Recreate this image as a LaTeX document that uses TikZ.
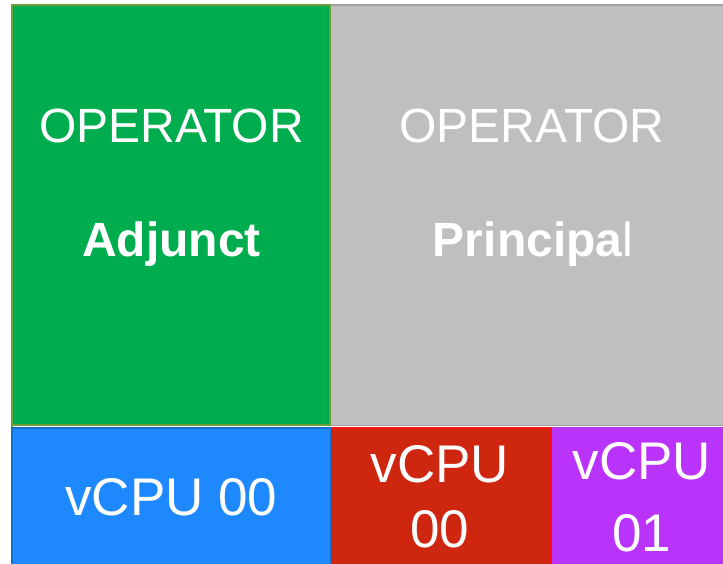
\documentclass[tikz,border=0pt]{standalone}
\usepackage{fontspec}
\setmainfont{Liberation Sans}
\definecolor{opgreen}{HTML}{00AD4E}
\definecolor{opgreenedge}{HTML}{6E9E3C}
\definecolor{opgray}{HTML}{BFBFBF}
\definecolor{opgrayedge}{HTML}{A3A3A3}
\definecolor{cpublue}{HTML}{1E88FF}
\definecolor{cpublueedge}{HTML}{1670C8}
\definecolor{cpured}{HTML}{CF2610}
\definecolor{cpuredge}{HTML}{FF1010}
\definecolor{cpupurple}{HTML}{BA33FA}
\tikzset{
  bigtext/.style={text=white, inner sep=0pt, anchor=base, font=\fontsize{48}{57}\selectfont},
  cputext/.style={text=white, inner sep=0pt, anchor=base, font=\fontsize{53}{63}\selectfont},
}
\begin{document}
\begin{tikzpicture}[x=1pt,y=-1pt]
\useasboundingbox (0,0) rectangle (723,563);
\fill[white] (0,0) rectangle (723,563);
\begin{scope}
\clip (0,0) rectangle (723,563);
% operator panels
\fill[opgreen] (11,4) rectangle (331,426);
\draw[opgreenedge, line width=2pt] (12,564) -- (12,5) -- (330,5) -- (330,425) -- (12,425);
\fill[opgray] (331,4) rectangle (724,425);
\draw[opgrayedge, line width=2pt] (331,5) -- (724,5);
\draw[opgrayedge, line width=1pt] (331,425) -- (724,425);
% vCPU panels
\fill[cpublue] (11,427) rectangle (331,564);
\draw[cpublueedge, line width=2pt] (12,564) -- (12,428) -- (330,428);
\draw[cpublueedge, line width=1pt] (330.5,428) -- (330.5,564);
\fill[cpured] (331,427) rectangle (552,564);
\draw[cpuredge, line width=2pt] (331,428) -- (551,428) -- (551,564);
\fill[cpupurple] (552,427) rectangle (724,564);
\end{scope}
% panel labels
\node[bigtext] (adjop) at (171.5,142) {OPERATOR};
\node[bigtext] (adjname) at (171.5,256) {\bfseries Adjunct};
\node[bigtext] (priop) at (532,142) {OPERATOR};
\node[bigtext] (priname) at (533,256) {\bfseries Principa\mdseries l};
\node[cputext] (cpua) at (171.5,515) {vCPU 00};
\node[cputext] (cpubtop) at (440,482) {vCPU};
\node[cputext] (cpubbot) at (440,547) {00};
\node[cputext] (cpuctop) at (642,479) {vCPU};
\node[cputext] (cpucbot) at (642,551) {01};
\end{tikzpicture}
\end{document}
